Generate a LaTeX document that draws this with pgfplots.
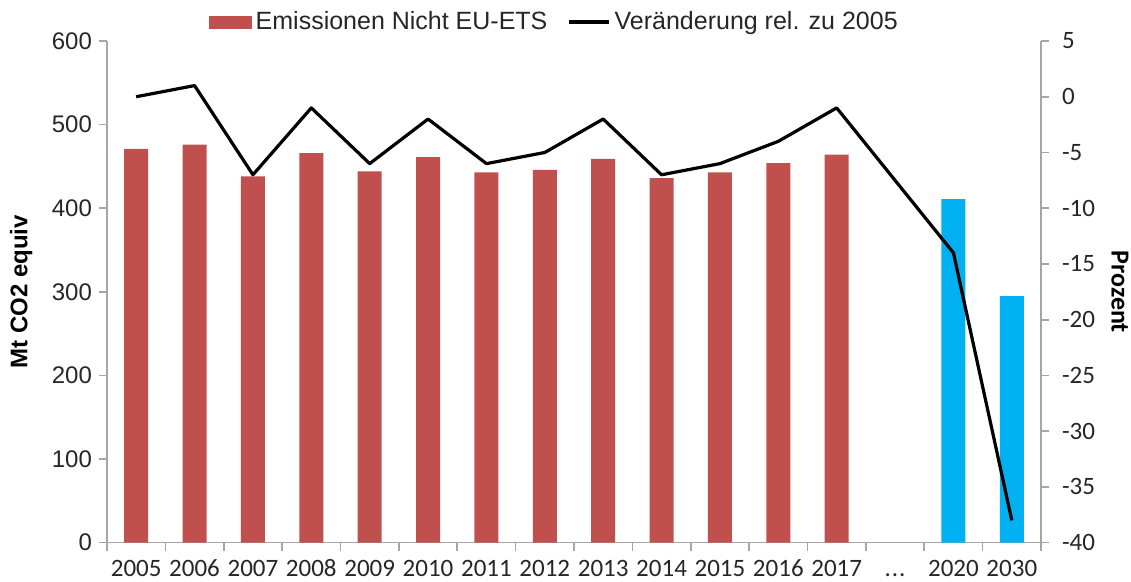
\documentclass[border=0pt]{standalone}
\usepackage{fontspec}
\setmainfont{Liberation Sans}
\newfontfamily\carlito{Carlito}
\usepackage{pgfplots}
\pgfplotsset{compat=1.18}
\definecolor{barred}{HTML}{C0504D}
\definecolor{barblue}{HTML}{00B0F0}
\definecolor{axgray}{HTML}{A6A6A6}
\definecolor{txt}{HTML}{262626}
\begin{document}
\begin{tikzpicture}
\useasboundingbox (0,0) rectangle (565.5pt,291pt);
\begin{axis}[
  at={(53.5pt,19.65pt)}, anchor=south west,
  scale only axis, width=467pt, height=250.85pt,
  xmin=-0.5, xmax=15.5, ymin=0, ymax=600,
  axis y line*=left, axis x line*=bottom,
  axis line style={axgray, line width=0.8pt},
  ytick={0,100,...,600},
  xtick={0,...,15},
  xticklabels={2005,2006,2007,2008,2009,2010,2011,2012,2013,2014,2015,2016,2017,{.\kern0.5pt.\kern0.5pt.},2020,2030},
  minor xtick={-0.5,0.5,...,15.5},
  major x tick style={draw=none},
  minor x tick style={axgray, line width=0.8pt},
  minor tick length=4pt,
  y tick style={axgray, line width=0.8pt},
  major tick length=4pt,
  tick align=outside,
  /pgf/number format/assume math mode=true,
  yticklabel style={font=\fontsize{12}{14}\selectfont, text=txt},
  xticklabel style={font=\carlito\fontsize{12.5}{14}\selectfont, text=txt, text height=8.5pt, text depth=0pt, yshift=-1pt},
  ylabel={\textbf{Mt CO2 equiv}},
  ylabel style={font=\fontsize{12}{14}\selectfont, at={(axis description cs:-0.092,0.5)}, anchor=center},
  ybar, bar width=12pt, bar shift=0pt,
]
\addplot[fill=barred, draw=none] coordinates {(0,471)(1,476)(2,438)(3,466)(4,444)(5,461)(6,443)(7,446)(8,459)(9,436)(10,443)(11,454)(12,464)};
\addplot[fill=barblue, draw=none] coordinates {(14,411)(15,295)};
\end{axis}
\begin{axis}[
  at={(53.5pt,19.65pt)}, anchor=south west,
  scale only axis, width=467pt, height=250.85pt,
  xmin=-0.5, xmax=15.5, ymin=-40, ymax=5,
  axis y line*=right, axis x line=none,
  axis line style={axgray, line width=0.8pt},
  ytick={-40,-35,...,5},
  y tick style={axgray, line width=0.8pt},
  major tick length=4pt,
  tick align=outside,
  /pgf/number format/assume math mode=true,
  yticklabel style={font=\carlito\fontsize{12.5}{14}\selectfont, text=txt, xshift=3pt},
  ylabel={\textbf{\carlito Prozent}},
  ylabel style={font=\fontsize{13}{15}\selectfont, at={(axis description cs:1.0846,0.5)}, anchor=center, rotate=180},
  legend style={draw=none, fill=none, at={(0.48,1.038)}, anchor=center, legend columns=2,
    font=\fontsize{12.5}{15}\selectfont, text=txt,
    /tikz/every even column/.append style={column sep=8pt},
    inner sep=0pt},
  legend cell align=left,
]
\addlegendimage{legend image code/.code={\fill[barred] (0pt,-3pt) rectangle (21pt,3pt);}}
\addlegendentry{Emissionen Nicht EU-ETS}
\addplot[black, line width=1.6pt, line join=round, legend image code/.code={\draw[black, line width=1.6pt] (0pt,0pt) -- (20pt,0pt);}] coordinates {(0,0)(1,1)(2,-7)(3,-1)(4,-6)(5,-2)(6,-6)(7,-5)(8,-2)(9,-7)(10,-6)(11,-4)(12,-1)(14,-14)(15,-38)};
\addlegendentry{Veränderung rel. zu 2005}
\end{axis}
\end{tikzpicture}
\end{document}
